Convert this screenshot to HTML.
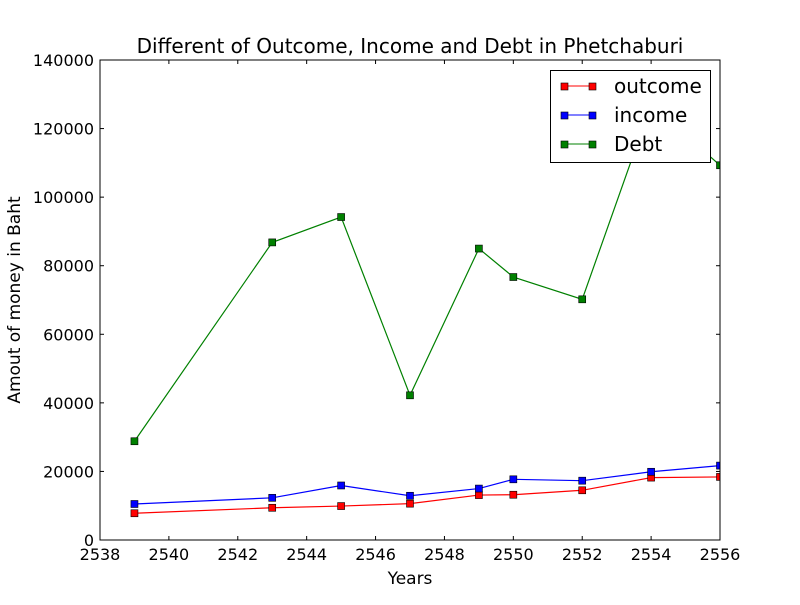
<!DOCTYPE html>
<html><head><meta charset="utf-8"><style>
body{margin:0;background:#fff;font-family:"Liberation Sans","DejaVu Sans",sans-serif}
svg text{font-family:"DejaVu Sans","Liberation Sans",sans-serif}
</style></head><body>
<svg id="c" width="800" height="600" xmlns="http://www.w3.org/2000/svg">
<rect width="800" height="600" fill="#fff"/>
</svg>
<script>
const years=[2539,2543,2545,2547,2549,2550,2552,2554,2556];
const outcome=[7800,9400,9900,10600,13100,13200,14500,18200,18400];
const income=[10500,12300,15900,12900,15000,17700,17300,19900,21700];
const debt=[28800,86800,94200,42200,85000,76700,70200,127000,109300];
const xTicks=[2538,2540,2542,2544,2546,2548,2550,2552,2554,2556];
const yTicks=[0,20000,40000,60000,80000,100000,120000,140000];
const L=100,R=720,T=60,B=540;
const sx=v=>L+(v-2538)/(2556-2538)*(R-L);
const sy=v=>B-v/140000*(B-T);
const svg=document.getElementById('c');const NS='http://www.w3.org/2000/svg';
function mk(t,a,p){const e=document.createElementNS(NS,t);for(const k in a)e.setAttribute(k,a[k]);(p||svg).appendChild(e);return e;}
const clip=mk('clipPath',{id:'cl'});mk('rect',{x:L,y:T,width:R-L,height:B-T},clip);
const series=[[outcome,'#ff0000','outcome'],[income,'#0000ff','income'],[debt,'#008000','debt']];
series.forEach(([d,c,n])=>{
 const g=mk('g',{'clip-path':'url(#cl)'});
 
 
 const pl=mk('polyline',{points:d.map((v,i)=>sx(years[i])+','+sy(v)).join(' '),fill:'none',stroke:c,'stroke-width':1.2},g);
 
 
 d.forEach((v,i)=>{const r=mk('rect',{x:sx(years[i])-3.5,y:sy(v)-3.5,width:7,height:7,fill:c,stroke:'#000','stroke-width':0.6},g);
 
 });
});
mk('rect',{x:L,y:T,width:R-L,height:B-T,fill:'none',stroke:'#000','stroke-width':1});
xTicks.forEach(v=>{const x=sx(v);mk('line',{x1:x,x2:x,y1:B,y2:B-4,stroke:'#000'});mk('line',{x1:x,x2:x,y1:T,y2:T+4,stroke:'#000'});
 const t=mk('text',{x:x,y:B+20,'text-anchor':'middle','font-size':16});t.textContent=v;
 
 });
yTicks.forEach(v=>{const y=sy(v);mk('line',{x1:L,x2:L+4,y1:y,y2:y,stroke:'#000'});mk('line',{x1:R,x2:R-4,y1:y,y2:y,stroke:'#000'});
 const t=mk('text',{x:L-6,y:y+6,'text-anchor':'end','font-size':16});t.textContent=v;
 
 });
</script>
<svg width="800" height="600" style="position:absolute;left:0;top:0" xmlns="http://www.w3.org/2000/svg">
<text x="410" y="53" text-anchor="middle" font-size="20">Different of Outcome, Income and Debt in Phetchaburi</text>
<text x="410" y="584" text-anchor="middle" font-size="17">Years</text>
<text transform="translate(20,300) rotate(-90)" text-anchor="middle" font-size="17">Amout of money in Baht</text>
<g>
<rect x="550.5" y="70.5" width="160" height="92" fill="#fff" stroke="#000"/>
<g><line x1="564" x2="593" y1="86" y2="86" stroke="#f00"/><rect x="561" y="83" width="7" height="7" fill="#f00" stroke="#000" stroke-width="0.6"/><rect x="589" y="83" width="7" height="7" fill="#f00" stroke="#000" stroke-width="0.6"/><text x="614" y="93" font-size="20">outcome</text></g>
<g><line x1="564" x2="593" y1="115" y2="115" stroke="#00f"/><rect x="561" y="112" width="7" height="7" fill="#00f" stroke="#000" stroke-width="0.6"/><rect x="589" y="112" width="7" height="7" fill="#00f" stroke="#000" stroke-width="0.6"/><text x="614" y="122" font-size="20">income</text></g>
<g><line x1="564" x2="593" y1="144" y2="144" stroke="#008000"/><rect x="561" y="141" width="7" height="7" fill="#008000" stroke="#000" stroke-width="0.6"/><rect x="589" y="141" width="7" height="7" fill="#008000" stroke="#000" stroke-width="0.6"/><text x="614" y="151" font-size="20">Debt</text></g>
</g>
</svg>
</body></html>
